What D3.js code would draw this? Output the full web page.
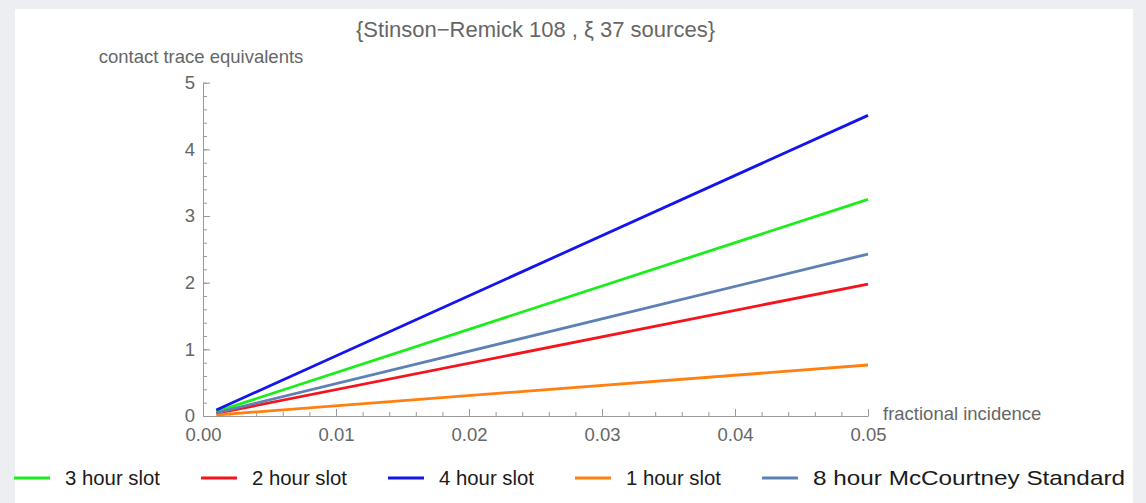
<!DOCTYPE html>
<html>
<head>
<meta charset="utf-8">
<script src="https://cdn.jsdelivr.net/npm/d3@7"></script>
<style>
  html, body { margin: 0; padding: 0; background: #eceef1; }
  svg { display: block; font-family: "Liberation Sans", Arial, Helvetica, sans-serif; }
</style>
</head>
<body>
<svg id="chart"></svg>
<script>
const w = 1146;
const h = 503;

// data
const TITLE = "{Stinson\u2212Remick 108 , \u03BE 37 sources}";
const Y_LABEL = "contact trace equivalents";
const X_LABEL = "fractional incidence";

const seriesNames = ["3 hour slot", "2 hour slot", "4 hour slot", "1 hour slot", "8 hour McCourtney Standard"];
const incidence = [0.001, 0.05];
const slot3 = [0.065, 3.25];
const slot2 = [0.04, 1.98];
const slot4 = [0.09, 4.51];
const slot1 = [0.015, 0.765];
const mcCourtney = [0.048, 2.43];

const xTicks = [0, 0.01, 0.02, 0.03, 0.04, 0.05];
const yTicks = [0, 1, 2, 3, 4, 5];

// styles
const seriesColors = ["#1aee1a", "#f5141e", "#1414ee", "#ff8010", "#5e81b5"];
const legendTextWidths = [95, 95, 95, 95, 312];

const allValues = [slot3, slot2, slot4, slot1, mcCourtney];

const svg = d3.select("#chart").attr("width", w).attr("height", h);

// white panel
svg.append("rect")
    .attr("x", 15).attr("y", 9)
    .attr("width", 1118).attr("height", h)
    .attr("fill", "#ffffff");

const x = d3.scaleLinear().domain([0, 0.05]).range([203, 868]);
const y = d3.scaleLinear().domain([0, 5]).range([416, 82.7]);

const axisColor = "#999";
const labelColor = "#666";

//minor ticks
svg.append("g")
    .attr("transform", "translate(0," + y(0) + ")")
    .call(d3.axisBottom(x).tickValues(d3.range(0, 0.0501, 0.002)).tickSize(-4).tickSizeOuter(0).tickFormat(""))
    .call(g => g.select(".domain").remove());

svg.append("g")
    .attr("transform", "translate(" + x(0) + ",0)")
    .call(d3.axisLeft(y).tickValues(d3.range(0, 5.01, 0.2)).tickSize(-4).tickSizeOuter(0).tickFormat(""))
    .call(g => g.select(".domain").remove());

//major axes
svg.append("g")
    .attr("transform", "translate(0," + y(0) + ")")
    .call(d3.axisBottom(x).tickValues(xTicks).tickSize(-7).tickSizeOuter(0).tickPadding(12).tickFormat(d3.format(".2f")));

svg.append("g")
    .attr("transform", "translate(" + x(0) + ",0)")
    .call(d3.axisLeft(y).tickValues(yTicks).tickSize(-7).tickSizeOuter(0).tickPadding(8).tickFormat(d3.format("d")));

svg.selectAll(".tick line, .domain").attr("stroke", axisColor);
svg.selectAll(".tick text").attr("fill", labelColor).style("font-size", "18.5px").attr("font-family", null);

// series lines
const line = d3.line()
    .x((d, i) => x(incidence[i]))
    .y(d => y(d));

svg.selectAll(".series")
    .data(allValues)
    .enter()
    .append("path")
    .attr("class", "series")
    .attr("d", d => line(d))
    .attr("fill", "none")
    .attr("stroke", (d, i) => seriesColors[i])
    .attr("stroke-width", 2.8);

// texts
svg.append("text")
    .attr("x", (x(0) + x(0.05)) / 2)
    .attr("y", 37)
    .attr("text-anchor", "middle")
    .attr("fill", labelColor)
    .style("font-size", "22px")
    .text(TITLE);

svg.append("text")
    .attr("x", x(0) - 2)
    .attr("y", 63)
    .attr("text-anchor", "middle")
    .attr("fill", labelColor)
    .style("font-size", "18.5px")
    .text(Y_LABEL);

svg.append("text")
    .attr("x", 883)
    .attr("y", 420)
    .attr("fill", labelColor)
    .style("font-size", "18.5px")
    .text(X_LABEL);

// legend
const legend = svg.append("g").attr("class", "legend");
let lx = 14;
const ly = 478;
seriesNames.forEach((name, i) => {
    legend.append("line")
        .attr("x1", lx).attr("x2", lx + 36)
        .attr("y1", ly).attr("y2", ly)
        .attr("stroke", seriesColors[i])
        .attr("stroke-width", 2.8);
    legend.append("text")
        .attr("x", lx + 51)
        .attr("y", ly + 7)
        .attr("fill", "#1a1a1a")
        .attr("textLength", legendTextWidths[i])
        .attr("lengthAdjust", "spacingAndGlyphs")
        .style("font-size", "20.3px")
        .text(name);
    lx = lx + 51 + legendTextWidths[i] + 41;
});
</script>
</body>
</html>
